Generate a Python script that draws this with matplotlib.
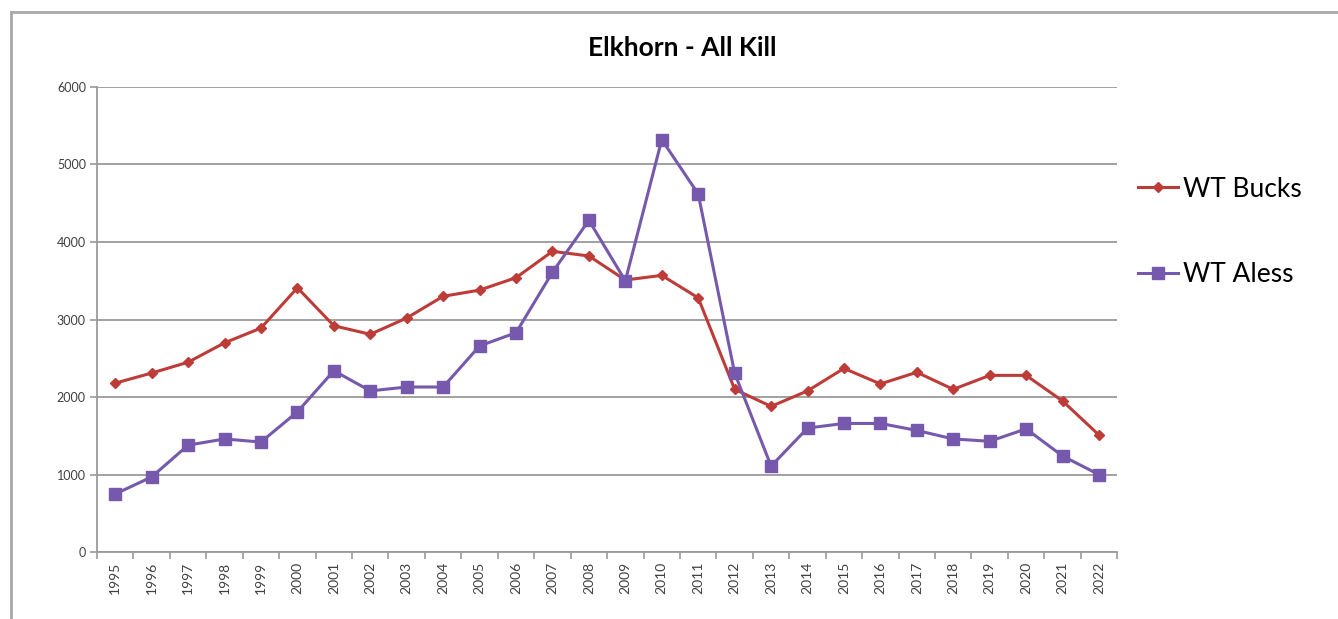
import matplotlib.pyplot as plt
from matplotlib.lines import Line2D
import numpy as np

years = [str(y) for y in range(1995, 2023)]
wt_bucks = [2180, 2310, 2450, 2700, 2890, 3410, 2920, 2810, 3020, 3300,
            3380, 3540, 3880, 3820, 3510, 3570, 3280, 2100, 1880, 2080,
            2370, 2170, 2320, 2100, 2280, 2280, 1950, 1510]
wt_aless = [750, 970, 1380, 1460, 1420, 1810, 2340, 2080, 2130, 2130,
            2660, 2830, 3610, 4280, 3500, 5320, 4620, 2310, 1110, 1600,
            1660, 1660, 1570, 1460, 1430, 1590, 1240, 1000]

plt.rcParams['font.family'] = ['Lato', 'DejaVu Sans']

fig = plt.figure(figsize=(13.38, 6.19), dpi=100)
ax = fig.add_axes([0.0725, 0.108, 0.7625, 0.7515])

x = np.arange(len(years))
ax.plot(x, wt_bucks, color='#BE3C37', lw=2.2, marker='D', markersize=5,
        label='WT Bucks', zorder=3)
ax.plot(x, wt_aless, color='#7659AC', lw=2.2, marker='s', markersize=9,
        label='WT Aless', zorder=3)

ax.set_xlim(-0.5, len(years) - 0.5)
ax.set_ylim(0, 6000)
ax.set_yticks(range(0, 6001, 1000))
ax.yaxis.grid(True, color='#9a9a9a', lw=1.3)
ax.set_axisbelow(True)

ax.set_xticks(x)
ax.set_xticklabels(years, rotation=90, fontsize=10, color='#404040')
ax.set_xticks(np.arange(-0.5, len(years)), minor=True)
ax.tick_params(axis='x', which='major', length=0, pad=7)
ax.tick_params(axis='x', which='minor', length=5, color='#9a9a9a', width=1.2)
ax.tick_params(axis='y', length=5, color='#9a9a9a', width=1.2, labelsize=9,
               labelcolor='#404040', pad=3)

for s in ['top', 'right']:
    ax.spines[s].set_visible(False)
for s in ['left', 'bottom']:
    ax.spines[s].set_color('#9a9a9a')
    ax.spines[s].set_linewidth(1.3)

fig.text(0.51, 0.922, 'Elkhorn - All Kill', ha='center', va='center',
         fontsize=19, fontweight='bold')

ax.legend(loc='upper left', bbox_to_anchor=(1.01, 0.83), frameon=False,
          fontsize=19, handlelength=1.5, handletextpad=0.2, labelspacing=2.3,
          borderaxespad=0)

# partial frame around chart
fig.add_artist(Line2D([11 / 1338, 1.0], [1 - 12 / 619, 1 - 12 / 619],
                      color='#a8a8a8', lw=2))
fig.add_artist(Line2D([11 / 1338, 11 / 1338], [0, 1 - 12 / 619],
                      color='#a8a8a8', lw=2))

plt.savefig('out.png', dpi=100)
